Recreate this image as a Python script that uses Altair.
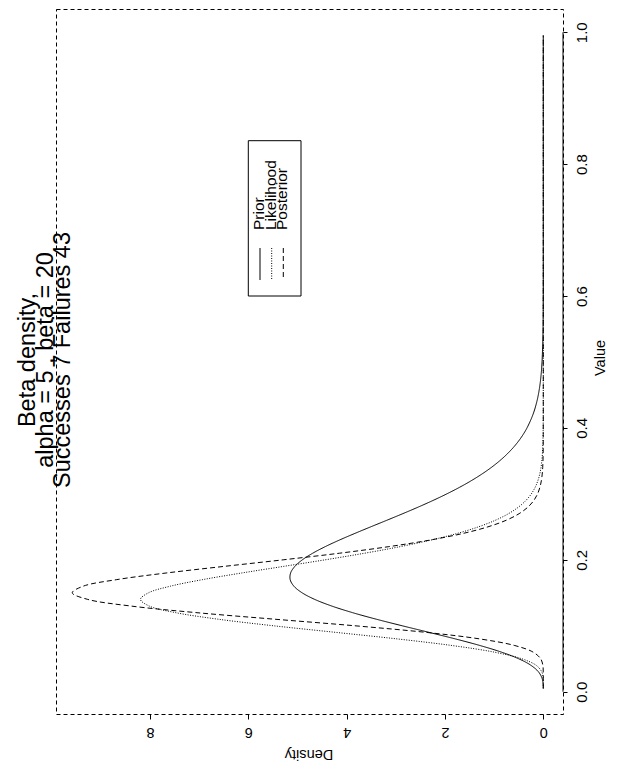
import altair as alt
import pandas as pd

# Grid of parameter values (probability of success)
value_grid = [0.005,
              0.01, 0.02, 0.03, 0.04, 0.05, 0.06, 0.07, 0.08, 0.09, 0.10,
              0.11, 0.12, 0.13, 0.14, 0.15, 0.16, 0.17, 0.18, 0.19, 0.20,
              0.21, 0.22, 0.23, 0.24, 0.25, 0.26, 0.27, 0.28, 0.29, 0.30,
              0.31, 0.32, 0.33, 0.34, 0.35, 0.36, 0.37, 0.38, 0.39, 0.40,
              0.42, 0.44, 0.46, 0.48, 0.50, 0.55, 0.60, 0.70, 0.80, 0.90, 0.995]

# Prior: Beta(5, 20)
prior = [0.0,
         0.0018, 0.0232, 0.0965, 0.2505, 0.5012, 0.8499, 1.2852, 1.7853, 2.3236, 2.8708,
         3.3994, 3.8843, 4.3058, 4.6495, 4.9059, 5.0725, 5.1484, 5.1400, 5.0540, 4.9007,
         4.6904, 4.4351, 4.1464, 3.8342, 3.5104, 3.1818, 2.8576, 2.5431, 2.2434, 1.9625,
         1.7022, 1.4645, 1.2499, 1.0583, 0.8893, 0.7413, 0.6133, 0.5034, 0.4101, 0.3315,
         0.2116, 0.1308, 0.0783, 0.0453, 0.0253, 0.0050, 0.0008, 0.0, 0.0, 0.0, 0.0]

# Likelihood of 7 successes / 43 failures, scaled as a density
likelihood = [0.0,
              0.0000, 0.0027, 0.0301, 0.1443, 0.4386, 0.9966, 1.8515, 2.9621, 4.2223, 5.4890,
              6.6173, 7.4848, 8.0178, 8.1936, 8.0300, 7.5857, 6.9274, 6.1375, 5.2872, 4.4382,
              3.6358, 2.9115, 2.2821, 1.7517, 1.3193, 0.9745, 0.7072, 0.5041, 0.3532, 0.2434,
              0.1649, 0.1099, 0.0721, 0.0465, 0.0296, 0.0185, 0.0114, 0.0069, 0.0041, 0.0024,
              0.0008, 0.0002, 0.0001, 0.0, 0.0, 0.0, 0.0, 0.0, 0.0, 0.0, 0.0]

# Posterior: Beta(12, 63)
posterior = [0.0,
             0.0000, 0.0000, 0.0007, 0.0088, 0.0535, 0.2061, 0.5788, 1.2864, 2.3863, 3.8329,
             5.4718, 7.0718, 8.3972, 9.2663, 9.5819, 9.3591, 8.6747, 7.6732, 6.4998, 5.2905,
             4.1481, 3.1408, 2.3017, 1.6337, 1.1265, 0.7542, 0.4915, 0.3118, 0.1927, 0.1162,
             0.0683, 0.0392, 0.0219, 0.0120, 0.0064, 0.0033, 0.0017, 0.0008, 0.0004, 0.0002,
             0.0, 0.0, 0.0, 0.0, 0.0, 0.0, 0.0, 0.0, 0.0, 0.0, 0.0]

density_ticks = [0, 2, 4, 6, 8]
value_ticks = [0.0, 0.2, 0.4, 0.6, 0.8, 1.0]

title_lines = ["Beta density,", "alpha = 5 , beta = 20", "Successes 7 Failures 43"]
legend_labels = ["Prior", "Likelihood", "Posterior"]

FONT = "Liberation Sans"
W, H = 507, 705

curves = pd.DataFrame({
    "value": value_grid,
    "Prior": prior,
    "Likelihood": likelihood,
    "Posterior": posterior,
})

x_scale = alt.Scale(domain=[-0.401, 9.912], reverse=True, nice=False, zero=False)
y_scale = alt.Scale(domain=[-0.0338, 1.0353], nice=False, zero=False)

x_axis = alt.Axis(values=density_ticks, format="d", labelAngle=180, labelAlign="center",
                  labelBaseline="alphabetic", tickSize=5, labelPadding=8.4, domain=False,
                  grid=False, title=None, labelFont=FONT, labelFontSize=14.5,
                  labelColor="black", tickColor="black", labelFlush=False, labelOverlap=False)
y_axis = alt.Axis(orient="right", values=value_ticks, format=".1f", labelAngle=270,
                  labelAlign="center", labelBaseline="middle", tickSize=4, labelPadding=14.5,
                  domain=False, grid=False, title=None, labelFont=FONT, labelFontSize=15,
                  labelColor="black", tickColor="black", labelFlush=False, labelOverlap=False)

dashes = {"Prior": [1, 0], "Likelihood": [1, 1.5], "Posterior": [5, 3]}


def curve(name):
    return alt.Chart(curves).mark_line(
        color="black", strokeWidth=1, strokeDash=dashes[name], interpolate="catmull-rom"
    ).encode(
        x=alt.X(f"{name}:Q", scale=x_scale, axis=x_axis),
        y=alt.Y("value:Q", scale=y_scale, axis=y_axis),
        order=alt.Order("value:Q"),
    )


# solid axis line along the value axis, from 0 to 1
axis_line = alt.Chart(pd.DataFrame({"lo": [0.0], "hi": [1.0]})).mark_rule(
    color="black", strokeWidth=1
).encode(
    x=alt.value(W),
    y=alt.Y("lo:Q", scale=y_scale, axis=y_axis),
    y2="hi:Q",
)

one = pd.DataFrame({"k": [0]})


def label(text, x, y, angle, size, align="center", baseline="middle"):
    return alt.Chart(one).mark_text(
        text=text, angle=angle, align=align, baseline=baseline,
        font=FONT, fontSize=size, color="black"
    ).encode(x=alt.value(x), y=alt.value(y))


# page offsets of the plot area
OX, OY = 56, 9

# three-line main title, rotated, centred on the plot's long side
title_layers = [
    label(t, xa - OX, 360 - OY, 270, 23.5, baseline="alphabetic")
    for t, xa in zip(title_lines, [35, 52.5, 70])
]

axis_titles = [
    label("Value", 600.5 - OX, 358 - OY, 270, 14.5),
    label("Density", 309 - OX, 754 - OY, 180, 14.5),
]

legend_box = alt.Chart(one).mark_rect(
    fill="white", stroke="black", strokeWidth=1
).encode(
    x=alt.value(248.3 - OX), x2=alt.value(301 - OX),
    y=alt.value(140.7 - OY), y2=alt.value(296 - OY),
)

legend_x = [260, 271.7, 283.3]
legend_layers = [legend_box]
for name, lx in zip(legend_labels, legend_x):
    legend_layers.append(
        alt.Chart(one).mark_rule(color="black", strokeWidth=1, strokeDash=dashes[name]).encode(
            x=alt.value(lx - OX), y=alt.value(248 - OY), y2=alt.value(280 - OY)
        )
    )
    legend_layers.append(label(name, lx - 1 - OX, 230 - OY, 270, 15.5, align="left"))

chart = alt.layer(
    curve("Prior"), curve("Likelihood"), curve("Posterior"), axis_line,
    *legend_layers, *title_layers, *axis_titles,
).properties(
    width=W, height=H,
    autosize=alt.AutoSizeParams(type="none"),
    padding={"left": OX, "top": OY, "right": 622 - OX - W, "bottom": 764 - OY - H},
    background="white",
).configure_view(
    stroke="black", strokeWidth=1, strokeDash=[4, 3]
)

chart.save("out.html", embed_options={"renderer": "svg", "actions": False})
